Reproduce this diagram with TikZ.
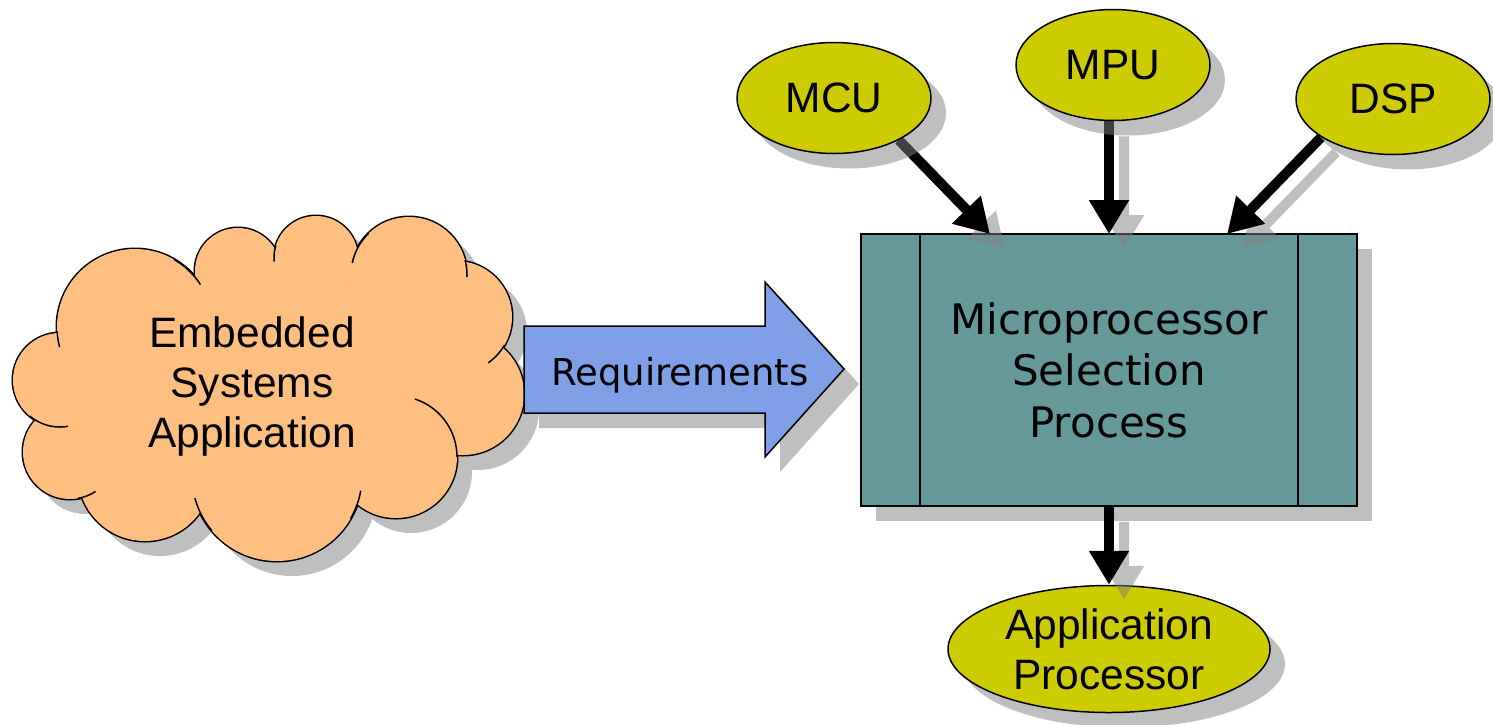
\documentclass[tikz,border=0pt]{standalone}
\usepackage{fontspec}
\setmainfont{Liberation Sans}
\newfontfamily\vfont{DejaVu Sans}
\usetikzlibrary{arrows.meta,shapes.geometric,shadows,calc}
\definecolor{cloudorange}{RGB}{255,191,128}
\definecolor{reqblue}{RGB}{127,159,230}
\definecolor{boxteal}{RGB}{102,153,153}
\definecolor{ellyellow}{RGB}{204,204,0}
\definecolor{shadowgray}{RGB}{191,191,191}
\pgfdeclarelayer{bg}
\pgfdeclarelayer{links}
\pgfdeclarelayer{front}
\pgfsetlayers{bg,links,main,front}
\begin{document}
\begin{tikzpicture}[x=1pt,y=-1pt,
  myshadow/.style={drop shadow={shadow xshift=15pt, shadow yshift=-15pt}},
  ell/.style={ellipse, draw, line width=1.5pt, fill=ellyellow, inner sep=0pt,
    minimum width=194pt, minimum height=111pt, align=center,
    font=\fontsize{42.5}{50}\selectfont, myshadow},
  procbox/.style={rectangle, draw, line width=1.7pt, fill=boxteal, inner sep=0pt,
    minimum width=496pt, minimum height=272pt, align=center,
    font=\vfont\fontsize{42}{51.5}\selectfont, myshadow},
  conn/.style={line width=10pt, -{Triangle[length=34pt,width=38pt]}},
  connshadow/.style={conn, draw=black!50, fill=black!50},
  cloudtext/.style={align=center, font=\fontsize{42.5}{50}\selectfont},
  reqtext/.style={font=\vfont\fontsize{37}{40}\selectfont},
  outline/.style={line width=1.5pt}
]
\useasboundingbox (0,0) rectangle (1493,724);

% ---------- cloud ----------
\def\puffs{60/380/47,135/327/78,238/271/43,316/258/42,409/275/58,456/317/56,463/394/61,396/457/61,277/476/85,145/474/67,70/452/47}
\begin{scope}[shift={(15,15)}]
  \foreach \x/\y/\r in \puffs {\fill[shadowgray] (\x,\y) circle[radius=\r];}
  \fill[shadowgray] (268,390) ellipse[x radius=200, y radius=120];
\end{scope}
\foreach \x/\y/\r in \puffs {\draw[line width=3pt] (\x,\y) circle[radius=\r];}
\foreach \x/\y/\r in \puffs {\fill[cloudorange] (\x,\y) circle[radius=\r];}
\fill[cloudorange] (268,390) ellipse[x radius=200, y radius=120];
\foreach \x/\y/\r/\a/\b in {135/327/78/177/165, 60/380/47/130/80, 70/452/47/80/57,
    135/327/78/-60/-33, 316/258/42/197/175, 409/275/58/226/192, 409/275/58/-15/2,
    456/317/56/30/55, 396/457/61/-72/0, 277/476/85/10/30, 277/476/85/140/165}
  {\draw[outline] plot[variable=\t, domain=\a:\b, samples=25, smooth]
      ({\x+\r*cos(\t)},{\y+\r*sin(\t)});}
\node[cloudtext] (app) at (252,387) {Embedded\\Systems\\Application};

% ---------- requirements arrow ----------
\fill[shadowgray, shift={(15,15)}] (524,326) -- (765,326) -- (765,282) -- (844,369)
  -- (765,457) -- (765,413) -- (524,413) -- cycle;
\draw[outline, fill=reqblue] (524,326) -- (765,326) -- (765,282) -- (844,369)
  -- (765,457) -- (765,413) -- (524,413) -- cycle;
\node[reqtext] (req) at (680,375) {Requirements};

% ---------- process box ----------
\begin{pgfonlayer}{bg}
\node[procbox] (box) at (1109,370) {Microprocessor\\Selection\\Process};
\draw[line width=1.7pt] ([xshift=60pt]box.north west) -- ([xshift=60pt]box.south west);
\draw[line width=1.7pt] ([xshift=-60pt]box.north east) -- ([xshift=-60pt]box.south east);
\end{pgfonlayer}

% ---------- ellipses ----------
\node[ell] (mcu) at (834,98) {MCU};
\node[ell] (mpu) at (1113,65) {MPU};
\node[ell] (dsp) at (1393,99) {DSP};
\node[ell, minimum width=322pt, minimum height=127pt] (ap) at (1109,649) {Application\\Processor};

% ---------- connectors ----------
\coordinate (t1) at (990,234);
\coordinate (t2) at (1109,234);
\coordinate (t3) at (1227,234);
\begin{pgfonlayer}{links}
\begin{scope}[transparency group, opacity=.5]
  \draw[connshadow] ($(mcu.-33)+(15,15)$) -- ($(t1)+(15,15)$);
  \draw[connshadow] ($(t2 |- mpu.south)+(15,15)$) -- ($(t2)+(15,15)$);
  \draw[connshadow] ($(dsp.208)+(15,15)$) -- ($(t3)+(15,15)$);
\end{scope}
\draw[conn] (mcu.-33) -- (t1);
\draw[conn] (t2 |- mpu.south) -- (t2);
\draw[conn] (dsp.208) -- (t3);
\end{pgfonlayer}
\begin{pgfonlayer}{front}
\begin{scope}[transparency group, opacity=.5]
  \draw[connshadow] ($(box.south)+(15,15)$) -- ($(ap.north)+(15,15)$);
\end{scope}
\draw[conn] (box.south) -- (ap.north);
\end{pgfonlayer}
\end{tikzpicture}
\end{document}
